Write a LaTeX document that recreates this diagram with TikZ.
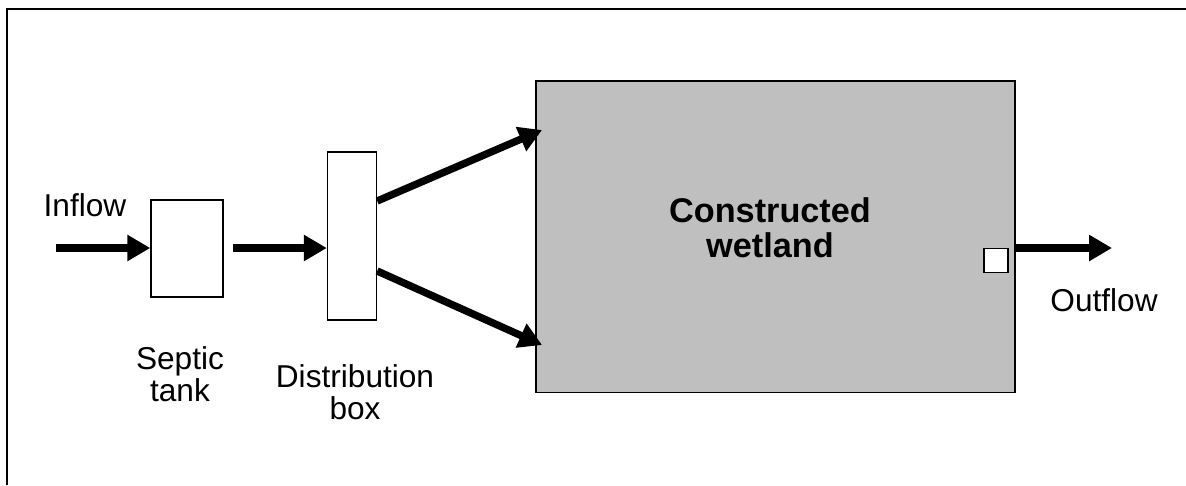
\documentclass[tikz,border=0pt]{standalone}
\usepackage{fontspec}
\setmainfont{Liberation Sans}
\usetikzlibrary{positioning,calc,arrows.meta}

\tikzset{
  unit/.style={draw,line width=0.8pt,fill=white,inner sep=0pt},
  flow/.style={line width=4.2pt,-{Triangle[length=0.46cm,width=0.5cm]}},
  lbl/.style={font=\fontsize{18}{18.5}\selectfont,align=center,inner sep=0pt}
}

\begin{document}
\begin{tikzpicture}[x=0.02cm,y=-0.02cm]
  \useasboundingbox (0,0) rectangle (1186,485);
  % frame (top and left only)
  \draw[line width=1.2pt] (7,485) -- (7,9) -- (1186,9);
  %
  \node[unit,minimum width=1.44cm,minimum height=1.94cm] at (187,248.5) (septic) {};
  \node[unit,minimum width=0.98cm,minimum height=3.36cm] at (352,236) (dbox) {};
  \node[draw,line width=1.1pt,fill=black!25,minimum width=9.58cm,minimum height=6.24cm] at (775.5,236.5) (wetland) {};
  \node[unit,line width=1pt,minimum size=0.48cm] at (996,260.5) (port) {};
  %
  \node[lbl] at (85,205) (inlbl) {Inflow};
  \node[lbl] at (180,374) (septiclbl) {Septic\\tank};
  \node[lbl] at (355,392) (dboxlbl) {Distribution\\box};
  \node[lbl,font=\fontsize{19.5}{20}\selectfont\bfseries] at (770,228) (wetlbl) {Constructed\\wetland};
  \node[lbl] at (1104,300) (outlbl) {Outflow};
  %
  \coordinate (in) at (56,248);
  \coordinate (out) at (1112,248);
  %
  \draw[flow] (in) -- (septic.west |- in);
  \draw[flow] ($(septic.east |- in)+(9,0)$) -- (dbox.west |- in);
  \draw[flow] ($(dbox.east)+(0,-35)$) -- ($(wetland.west)+(7,-106.5)$);
  \draw[flow] ($(dbox.east)+(0,35)$) -- ($(wetland.west)+(7,108.5)$);
  \draw[flow] (wetland.east |- out) -- (out);
\end{tikzpicture}
\end{document}
